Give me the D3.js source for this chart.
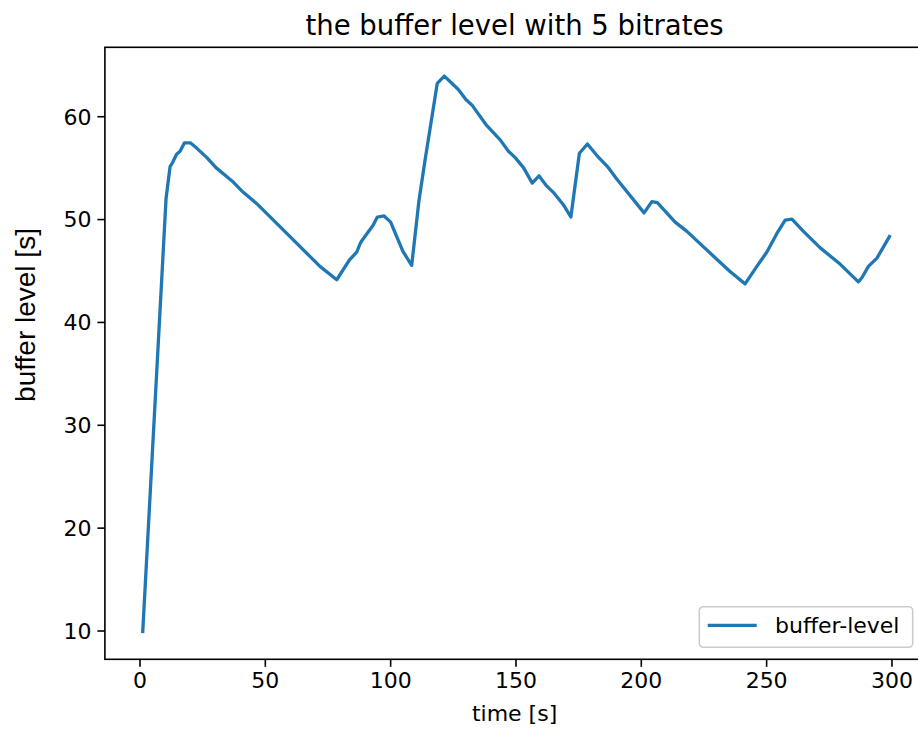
<!DOCTYPE html>
<html>
<head>
<meta charset="utf-8">
<script src="https://cdn.jsdelivr.net/npm/d3@7"></script>
<style>
  html, body { margin: 0; padding: 0; background: #ffffff; }
  svg { display: block; }
</style>
</head>
<body>
<svg id="chart" width="918" height="729"></svg>
<script>
// Buffer level over time (seconds), one sample per kink of the trace
const timeS = [1.3, 10.6, 12.2, 13.2, 14.8, 16.2, 17.9, 20.4, 22.8, 26.8, 30.5, 37.4, 41.4, 46.8,
  72.0, 78.7, 83.7, 86.7, 88.0, 88.7, 90.8, 93.2, 94.9, 97.6, 100.2, 105.0, 108.6,
  111.5, 113.9, 118.8, 121.6, 124.6, 127.2, 130.3, 132.6, 138.5, 143.9, 147.2, 149.8,
  153.2, 156.7, 159.4, 162.5, 165.1, 169.1, 172.1, 175.5, 178.7, 182.4, 186.7, 190.4,
  201.3, 204.4, 206.6, 213.7, 218.4, 231.6, 235.6, 241.6, 246.3, 250.3, 254.3, 257.6,
  260.3, 264.9, 271.6, 279.6, 286.8, 288.2, 290.8, 294.2, 299.2];
const bufferLevel = [9.9, 52.0, 55.1, 55.5, 56.3, 56.6, 57.4, 57.4, 56.9, 56.0, 55.0, 53.6, 52.6, 51.5,
  45.4, 44.1, 46.0, 46.8, 47.6, 47.9, 48.6, 49.4, 50.2, 50.3, 49.7, 46.9, 45.5,
  51.8, 55.7, 63.2, 63.9, 63.2, 62.6, 61.6, 61.1, 59.1, 57.7, 56.6, 56.0,
  55.0, 53.5, 54.2, 53.2, 52.6, 51.4, 50.2, 56.4, 57.3, 56.2, 55.1, 53.9,
  50.6, 51.7, 51.6, 49.7, 48.8, 45.8, 44.9, 43.7, 45.4, 46.8, 48.6, 49.9,
  50.0, 48.8, 47.2, 45.6, 43.9, 44.3, 45.4, 46.2, 48.3];

const xTicks = [0, 50, 100, 150, 200, 250, 300];
const yTicks = [10, 20, 30, 40, 50, 60];

const titleText = "the buffer level with 5 bitrates";
const xLabelText = "time [s]";
const yLabelText = "buffer level [s]";
const seriesName = "buffer-level";

const points = timeS.map((t, i) => ({ t, v: bufferLevel[i] }));

const svg = d3.select("#chart");
const plot = { left: 104.9, top: 47.3, right: 926.3, bottom: 659.3 };

const x = d3.scaleLinear().domain([-13.8, 313.9]).range([plot.left, plot.right]);
const y = d3.scaleLinear().domain([7.2, 66.7]).range([plot.bottom, plot.top]);

const lineColor = "#1f77b4";
const tickFont = "'DejaVu Sans', sans-serif";

// Data line
const line = d3.line().x(d => x(d.t)).y(d => y(d.v));
svg.append("path")
  .datum(points)
  .attr("d", line)
  .attr("fill", "none")
  .attr("stroke", lineColor)
  .attr("stroke-width", 3.3)
  .attr("stroke-linejoin", "round")
  .attr("stroke-linecap", "square");

// Axes
const xAxis = d3.axisBottom(x).tickValues(xTicks).tickSize(7.5).tickPadding(6).tickFormat(d3.format("d"));
const yAxis = d3.axisLeft(y).tickValues(yTicks).tickSize(7.5).tickPadding(6).tickFormat(d3.format("d"));

const gx = svg.append("g").attr("transform", `translate(0,${plot.bottom})`).call(xAxis);
const gy = svg.append("g").attr("transform", `translate(${plot.left},0)`).call(yAxis);

[gx, gy].forEach(g => {
  g.select(".domain").remove();
  g.selectAll(".tick line").attr("stroke", "#000").attr("stroke-width", 1.6);
  g.selectAll(".tick text")
    .attr("fill", "#000")
    .style("font-family", tickFont)
    .style("font-size", "22px");
});
gy.selectAll(".tick text").attr("dy", "0.36em");

// Frame (spines)
svg.append("rect")
  .attr("x", plot.left).attr("y", plot.top)
  .attr("width", plot.right - plot.left).attr("height", plot.bottom - plot.top)
  .attr("fill", "none").attr("stroke", "#000").attr("stroke-width", 1.6);

// Title
svg.append("text")
  .attr("x", 514.6).attr("y", 35)
  .attr("text-anchor", "middle")
  .style("font-family", tickFont)
  .style("font-size", "27.5px")
  .attr("fill", "#000")
  .text(titleText);

// X label
svg.append("text")
  .attr("x", 514.6).attr("y", 721)
  .attr("text-anchor", "middle")
  .style("font-family", tickFont)
  .style("font-size", "22px")
  .attr("fill", "#000")
  .text(xLabelText);

// Y label
svg.append("text")
  .attr("transform", "translate(35,315) rotate(-90)")
  .attr("text-anchor", "middle")
  .style("font-family", "'Liberation Sans', Arial, sans-serif")
  .style("font-size", "28px")
  .attr("fill", "#000")
  .text(yLabelText);

// Legend
const legend = svg.append("g").attr("transform", "translate(699.3,606.7)");
legend.append("rect")
  .attr("width", 213.4).attr("height", 40.6)
  .attr("rx", 4).attr("ry", 4)
  .attr("fill", "#ffffff").attr("fill-opacity", 0.8)
  .attr("stroke", "#cccccc").attr("stroke-width", 1.6);
legend.append("line")
  .attr("x1", 8.4).attr("x2", 57.4).attr("y1", 18.6).attr("y2", 18.6)
  .attr("stroke", lineColor).attr("stroke-width", 3.3);
legend.append("text")
  .attr("x", 75.7).attr("y", 26.6)
  .style("font-family", tickFont)
  .style("font-size", "22px")
  .attr("fill", "#000")
  .text(seriesName);
</script>
</body>
</html>
